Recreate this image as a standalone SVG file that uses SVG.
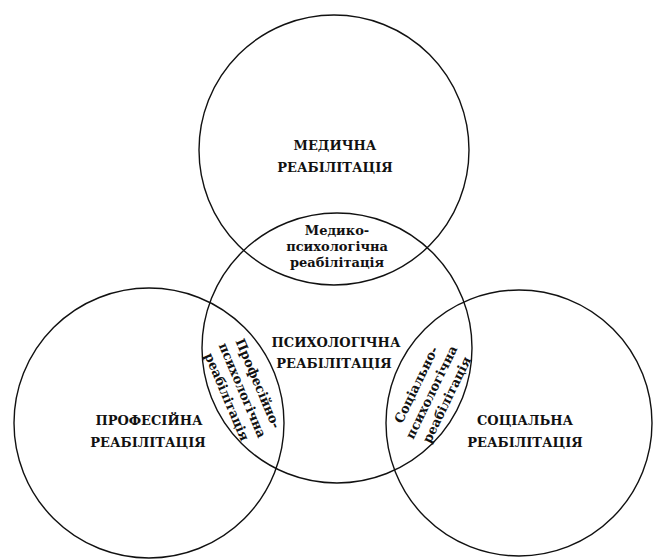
<svg xmlns="http://www.w3.org/2000/svg" width="653" height="560" viewBox="0 0 653 560">
<style>
.c{fill:none;stroke:#111;stroke-width:1.4}
.t{font-family:"DejaVu Serif","Liberation Serif",serif;font-weight:bold;font-size:13px;fill:#111;text-anchor:middle}
</style>
<rect width="653" height="560" fill="#fff"/>
<g id="medical">
<circle class="c" cx="334" cy="150" r="135"/>
<text class="t" x="335" y="150">МЕДИЧНА</text>
<text class="t" x="335" y="172">РЕАБІЛІТАЦІЯ</text>
</g>
<g id="psychological">
<circle class="c" cx="337" cy="348" r="135"/>
<text class="t" x="336" y="347">ПСИХОЛОГІЧНА</text>
<text class="t" x="334" y="368">РЕАБІЛІТАЦІЯ</text>
</g>
<g id="professional">
<circle class="c" cx="149" cy="423" r="135"/>
<text class="t" x="149" y="425">ПРОФЕСІЙНА</text>
<text class="t" x="148" y="447">РЕАБІЛІТАЦІЯ</text>
</g>
<g id="social">
<circle class="c" cx="519" cy="423" r="133"/>
<text class="t" x="525" y="425">СОЦІАЛЬНА</text>
<text class="t" x="525" y="447">РЕАБІЛІТАЦІЯ</text>
</g>
<g id="medico-psychological">
<text class="t" x="337" y="235">Медико-</text>
<text class="t" x="337" y="251">психологічна</text>
<text class="t" x="337" y="267">реабілітація</text>
</g>
<g id="professional-psychological" transform="translate(243,390) rotate(67)">
<text class="t" x="0" y="-12">Професійно-</text>
<text class="t" x="0" y="5">психологічна</text>
<text class="t" x="0" y="22">реабілітація</text>
</g>
<g id="social-psychological" transform="translate(431,392) rotate(-64)">
<text class="t" x="0" y="-12">Соціально-</text>
<text class="t" x="0" y="5">психологічна</text>
<text class="t" x="0" y="22">реабілітація</text>
</g>
</svg>
